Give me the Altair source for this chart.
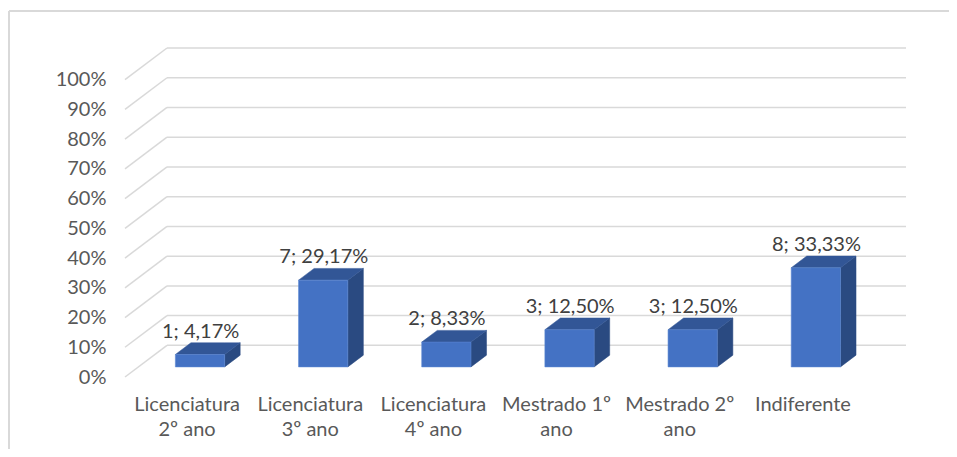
import altair as alt
import pandas as pd

# ---- data ----
categories = ["Licenciatura 2º ano", "Licenciatura 3º ano", "Licenciatura 4º ano",
              "Mestrado 1º ano", "Mestrado 2º ano", "Indiferente"]
category_lines = [["Licenciatura", "2º ano"], ["Licenciatura", "3º ano"], ["Licenciatura", "4º ano"],
                  ["Mestrado 1º", "ano"], ["Mestrado 2º", "ano"], ["Indiferente"]]
counts = [1, 7, 2, 3, 3, 8]
percents = [4.17, 29.17, 8.33, 12.50, 12.50, 33.33]
percent_labels = ["4,17%", "29,17%", "8,33%", "12,50%", "12,50%", "33,33%"]
tick_values = [0, 10, 20, 30, 40, 50, 60, 70, 80, 90, 100]

# ---- 3D projection settings (in data units) ----
DX = 0.341      # depth shift along x (category units)
DY = 10.64      # depth shift along y (percentage points)
F0, F1 = 0.32, 0.69   # bar front / back depth fraction
BW = 0.40       # bar width (category units)
N = len(categories)

FONT = "Lato"
FS = 20
FRONT, TOP, SIDE = "#4472C4", "#325696", "#2A4A81"
GRID = "#D9D9D9"

# derived geometry tables
grid = pd.DataFrame({"v": tick_values})
grid["x0"] = 0.0
grid["x1"] = DX
grid["x2"] = N + DX
grid["yb"] = grid["v"] + DY

ddx = (F1 - F0) * DX
ddy = (F1 - F0) * DY
front_rows, top_rows, side_rows, label_rows = [], [], [], []
for i, (c, v) in enumerate(zip(categories, percents)):
    xc = i + 0.5 + F0 * DX
    xl, xr = xc - BW / 2, xc + BW / 2
    yb = F0 * DY
    yt = yb + v
    front_rows.append({"cat": c, "xl": xl, "xr": xr, "yb": yb, "yt": yt})
    for x, y, y2 in [(xl, yt, yt), (xl + ddx, yt, yt + ddy), (xr, yt, yt + ddy), (xr + ddx, yt + ddy, yt + ddy)]:
        top_rows.append({"cat": c, "x": x, "y": y, "y2": y2})
    for x, y, y2 in [(xr, yb, yt), (xr + ddx, yb + ddy, yt + ddy)]:
        side_rows.append({"cat": c, "x": x, "y": y, "y2": y2})
    label_rows.append({"cat": c, "x": xc + 0.005, "y": yt + ddy,
                       "label": f"{counts[i]}; {percent_labels[i]}"})

front = pd.DataFrame(front_rows)
top = pd.DataFrame(top_rows)
side = pd.DataFrame(side_rows)
labels = pd.DataFrame(label_rows)

xscale = alt.Scale(domain=[0, N + DX], nice=False, zero=False)
yscale = alt.Scale(domain=[0, 100 + DY], nice=False, zero=False)

lines_js = "[" + ",".join("[" + ",".join(f"'{s}'" for s in parts) + "]" for parts in category_lines) + "]"

xaxis = alt.Axis(values=[i + 0.5 for i in range(N)],
                 labelExpr=f"{lines_js}[round(datum.value - 0.5)]",
                 labelFont=FONT, labelFontSize=FS, labelColor="#595959",
                 labelLineHeight=25, labelPadding=17, labelFlush=False,
                 labelOverlap=False, labelBound=False,
                 domain=False, ticks=False, grid=False, title=None)
yaxis = alt.Axis(values=tick_values, labelExpr="datum.value + '%'",
                 labelFont=FONT, labelFontSize=FS, labelColor="#595959",
                 labelPadding=19, labelOverlap=False, labelFlush=False, labelBound=False,
                 domain=False, ticks=False, grid=False, title=None)

def X(f):
    return alt.X(f, scale=xscale, axis=xaxis)

def Y(f):
    return alt.Y(f, scale=yscale, axis=yaxis)

back_lines = alt.Chart(grid).mark_rule(color=GRID, strokeWidth=1.5).encode(
    x=X("x1:Q"), x2="x2:Q", y=Y("yb:Q"),
)
diag_lines = alt.Chart(grid).mark_rule(color=GRID, strokeWidth=1.5).encode(
    x=X("x0:Q"), x2="x1:Q", y=Y("v:Q"), y2="yb:Q",
)
side_faces = alt.Chart(side).mark_area(color=SIDE, stroke=SIDE, strokeWidth=0.5).encode(
    x=X("x:Q"), y=Y("y:Q"), y2="y2:Q", detail="cat:N",
)
top_faces = alt.Chart(top).mark_area(color=TOP, stroke=TOP, strokeWidth=0.5).encode(
    x=X("x:Q"), y=Y("y:Q"), y2="y2:Q", detail="cat:N",
)
front_faces = alt.Chart(front).mark_rect(color=FRONT, stroke="#5A86D2", strokeWidth=0.6).encode(
    x=X("xl:Q"), x2="xr:Q", y=Y("yb:Q"), y2="yt:Q",
)
value_labels = alt.Chart(labels).mark_text(font=FONT, fontSize=FS, color="#404040",
                                           baseline="alphabetic", dy=-5).encode(
    x=X("x:Q"), y=Y("y:Q"), text="label:N",
)
frame_left = alt.Chart(grid).mark_rule(color=GRID, strokeWidth=1.5).encode(
    x=alt.value(-116), y=alt.value(-37), y2=alt.value(402),
)
frame_top = alt.Chart(grid).mark_rule(color=GRID, strokeWidth=1.5).encode(
    x=alt.value(-116), x2=alt.value(830), y=alt.value(-37),
)

chart = alt.layer(
    back_lines, frame_left, frame_top, diag_lines, side_faces, top_faces, front_faces, value_labels
).properties(
    width=781, height=329,
    padding={"left": 117, "top": 40, "right": 43, "bottom": 72},
    autosize=alt.AutoSizeParams(type="none"),
    background="white",
).configure_view(stroke=None).configure_axis(labelOverlap=False)

chart.save("out.html", embed_options={"renderer": "svg", "actions": False})
